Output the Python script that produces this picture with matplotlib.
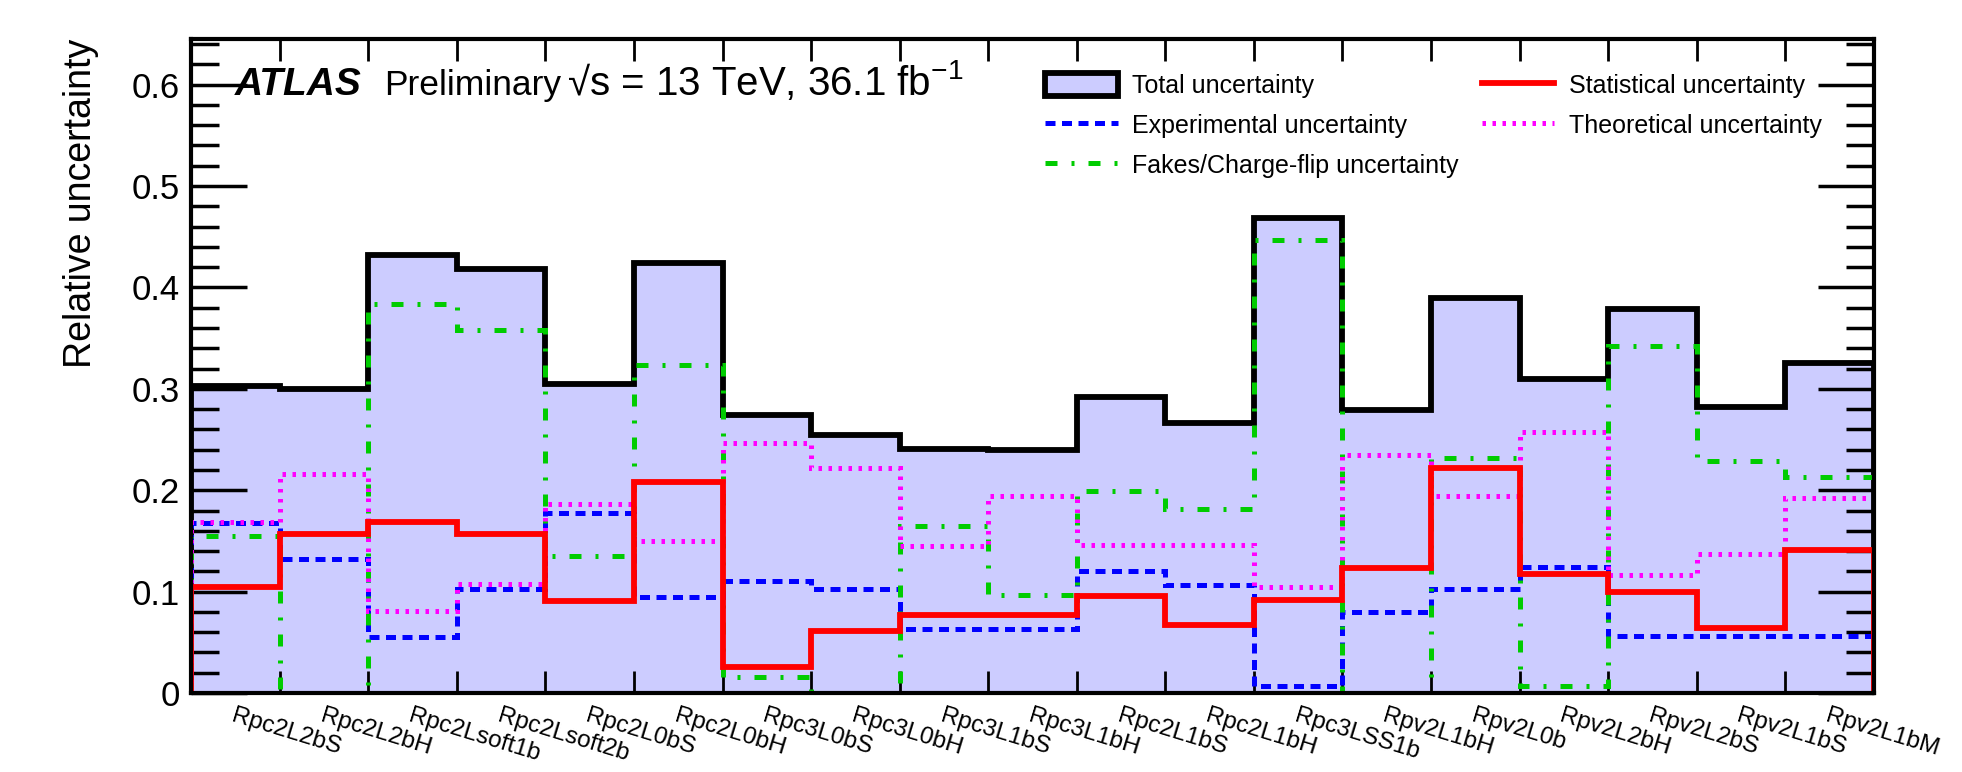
import numpy as np
import matplotlib
matplotlib.use("Agg")
import matplotlib.pyplot as plt
from matplotlib.patches import Patch
from matplotlib.lines import Line2D
from matplotlib.ticker import MultipleLocator, FixedLocator, NullFormatter

plt.rcParams['font.family'] = ['Liberation Sans', 'DejaVu Sans']
plt.rcParams['mathtext.fontset'] = 'custom'
plt.rcParams['mathtext.rm'] = 'Liberation Sans'
plt.rcParams['mathtext.it'] = 'Liberation Sans:italic'

#- Signal regions
regions = ['Rpc2L2bS', 'Rpc2L2bH', 'Rpc2Lsoft1b', 'Rpc2Lsoft2b', 'Rpc2L0bS',
           'Rpc2L0bH', 'Rpc3L0bS', 'Rpc3L0bH', 'Rpc3L1bS', 'Rpc3L1bH',
           'Rpc2L1bS', 'Rpc2L1bH', 'Rpc3LSS1b', 'Rpv2L1bH', 'Rpv2L0b',
           'Rpv2L2bH', 'Rpv2L2bS', 'Rpv2L1bS', 'Rpv2L1bM']

#- Relative uncertainties per region
total = [0.303, 0.300, 0.432, 0.418, 0.305, 0.424, 0.274, 0.254, 0.241, 0.240,
         0.292, 0.266, 0.468, 0.279, 0.390, 0.310, 0.379, 0.282, 0.325]
statistical = [0.105, 0.157, 0.169, 0.157, 0.091, 0.208, 0.026, 0.061, 0.077, 0.077,
               0.096, 0.067, 0.092, 0.123, 0.222, 0.117, 0.100, 0.064, 0.141]
experimental = [0.168, 0.132, 0.055, 0.103, 0.178, 0.095, 0.110, 0.103, 0.063, 0.063,
                0.120, 0.107, 0.007, 0.080, 0.103, 0.124, 0.056, 0.056, 0.056]
theoretical = [0.169, 0.216, 0.081, 0.108, 0.186, 0.150, 0.247, 0.222, 0.145, 0.194,
               0.146, 0.146, 0.105, 0.235, 0.194, 0.257, 0.116, 0.137, 0.192]
fakes = [0.155, 0.0, 0.384, 0.358, 0.135, 0.323, 0.016, 0.0, 0.165, 0.097,
         0.199, 0.181, 0.447, 0.0, 0.232, 0.007, 0.342, 0.229, 0.213]

edges = np.arange(len(regions) + 1)
centers = edges[:-1] + 0.5

#- Line styles (ROOT-like)
lw_thick = 4.2
lw_dash = 3.6
ls_exp = (0, (2.0, 1.3))
ls_fake = (0, (2.4, 2.8, 0.6, 2.8))
ls_theo = (0, (0.7, 1.3))

fig = plt.figure(figsize=(19.62, 7.72), dpi=100)
ax = fig.add_axes([0.0975, 0.1023, 0.8575, 0.8472])

ax.stairs(total, edges, baseline=0, fill=True, color='#ccccff', lw=0, zorder=1)
ax.stairs(total, edges, baseline=0, color='black', lw=lw_thick, zorder=2)
ax.stairs(experimental, edges, baseline=0, color='#0000ff', lw=lw_dash,
          linestyle=ls_exp, zorder=3)
ax.stairs(fakes, edges, baseline=0, color='#00cc00', lw=lw_dash,
          linestyle=ls_fake, zorder=4)
ax.stairs(theoretical, edges, baseline=0, color='#ff00ff', lw=lw_dash,
          linestyle=ls_theo, zorder=5)
ax.stairs(statistical, edges, baseline=0, color='#ff0000', lw=lw_thick, zorder=6)

ax.set_xlim(0, len(regions))
ax.set_ylim(0, 0.645)

#- ROOT-like ticks
ax.xaxis.set_major_locator(FixedLocator(edges))
ax.xaxis.set_major_formatter(NullFormatter())
ax.yaxis.set_major_locator(MultipleLocator(0.1))
ax.yaxis.set_minor_locator(MultipleLocator(0.02))
ax.tick_params(axis='x', which='major', direction='in', top=True, bottom=True,
               length=16, width=2)
ax.tick_params(axis='y', which='major', direction='in', left=True, right=True,
               length=40, width=2.5, labelsize=25, pad=8)
ax.tick_params(axis='y', which='minor', direction='in', left=True, right=True,
               length=20, width=2.5)
ax.yaxis.set_major_formatter(matplotlib.ticker.FuncFormatter(
    lambda v, p: '0' if abs(v) < 1e-9 else f'{v:.1f}'))
for spine in ax.spines.values():
    spine.set_linewidth(3)
    spine.set_zorder(10)

for c, name in zip(centers, regions):
    ax.text(c, -0.012, name, rotation=-17, rotation_mode='anchor',
            ha='left', va='top', fontsize=17.5)

ax.set_ylabel('Relative uncertainty', fontsize=27, loc='top', labelpad=24)

#- ATLAS label
ax.text(0.49, 0.59, 'ATLAS', fontsize=28, fontweight='bold', fontstyle='italic')
ax.text(2.18, 0.59, 'Preliminary', fontsize=25.5)
ax.text(4.24, 0.59, '\u221as = 13 TeV, 36.1 fb$^{-1}$', fontsize=29)

handles = [
    Patch(facecolor='#ccccff', edgecolor='black', linewidth=lw_thick),
    Line2D([], [], color='#0000ff', lw=lw_dash, linestyle=ls_exp),
    Line2D([], [], color='#00cc00', lw=lw_dash, linestyle=ls_fake),
    Line2D([], [], color='#ff0000', lw=lw_thick),
    Line2D([], [], color='#ff00ff', lw=lw_dash, linestyle=ls_theo),
]
labels = ['Total uncertainty', 'Experimental uncertainty',
          'Fakes/Charge-flip uncertainty', 'Statistical uncertainty',
          'Theoretical uncertainty']
fig.legend(handles, labels, ncol=2, loc='upper left',
           bbox_to_anchor=(1045 / 1962, 1 - 73 / 772), frameon=False,
           fontsize=18, handlelength=2.9, handleheight=1.05, handletextpad=0.6,
           columnspacing=0.9, labelspacing=0.6, borderpad=0, borderaxespad=0)

fig.savefig('out.png', dpi=100)
